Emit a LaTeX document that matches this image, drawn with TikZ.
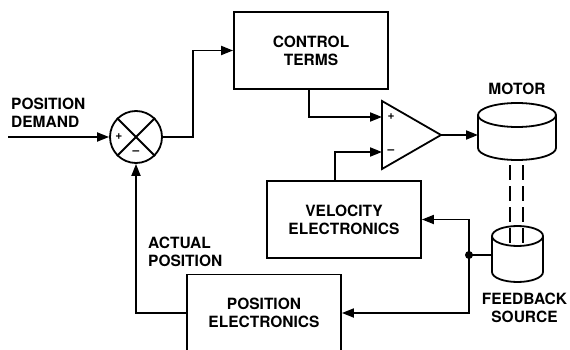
\documentclass[tikz,border=0pt]{standalone}
\usepackage{fontspec}
\newfontfamily\helv{TeX Gyre Heros}
\usepackage{tikz}
\usetikzlibrary{calc}
\usetikzlibrary{arrows.meta}

\tikzset{
  wire/.style={black, line width=1.8pt},
  sig/.style={wire, -{Triangle[length=12pt, width=9pt]}},
  blok/.style={draw, wire, fill=white, rectangle, minimum width=154pt, minimum height=77pt, align=center, inner sep=0pt, font=\helv\bfseries\fontsize{15.5}{18}\selectfont},
  lbl/.style={align=center, inner sep=0pt, font=\helv\bfseries\fontsize{15.5}{18}\selectfont},
  pm/.style={inner sep=0pt, font=\helv\bfseries\fontsize{12}{13}\selectfont}
}

\begin{document}
\begin{tikzpicture} [x=1pt, y=-1pt]
\useasboundingbox (0,0) rectangle (570,350);

% blocks
\node[blok] (ctrl) at (311,50.5) {CONTROL\\TERMS};
\node[blok] (vel) at (344,219.5) {VELOCITY\\ELECTRONICS};
\node[blok] (pos) at (264,313) {POSITION\\ELECTRONICS};

% summing junction
\node[draw, wire, fill=white, circle, minimum size=52pt, inner sep=0pt] (sum) at (136,137) {};
\draw[wire] (sum.north west) -- (sum.south east);
\draw[wire] (sum.north east) -- (sum.south west);
\node[pm] (splus) at (119,137) {+};
\node[pm] (sminus) at (136,153) {–};

% amplifier
\draw[wire, fill=white] (382,101) -- (441,135) -- (382,169) -- cycle;
\coordinate (ampp) at (382,117);
\coordinate (ampm) at (382,152);
\coordinate (ampo) at (441,135);
\node[pm] (aplus) at (391,117) {+};
\node[pm] (aminus) at (391,152) {–};

% motor and feedback source
\draw[wire, fill=white] (478,115) -- (478,148) arc[start angle=180, end angle=360, x radius=39pt, y radius=12pt] -- (556,115);
\draw[wire] (517,115) ellipse [x radius=39pt, y radius=12pt];
\coordinate (mot) at (478,135);
\draw[wire, fill=white] (492,236) -- (492,272) arc[start angle=180, end angle=360, x radius=25.5pt, y radius=10pt] -- (543,236);
\draw[wire] (517.5,236) ellipse [x radius=25.5pt, y radius=10pt];
\coordinate (fb) at (492,255);
\foreach \x in {510, 523} \draw[wire, dash pattern=on 15pt off 6pt] (\x,165) -- (\x,244);

% labels
\node[lbl, anchor=west, align=left] (dmdtxt) at (11,113) {POSITION\\DEMAND};
\node[lbl, anchor=west, align=left] (acttxt) at (148,252) {ACTUAL\\POSITION};
\node[lbl] (mottxt) at (517,89) {MOTOR};
\node[lbl] (fbtxt) at (524.5,307.5) {FEEDBACK\\SOURCE};

% signals
\coordinate (dmd) at (8,137);
\coordinate (jn) at (469,255);
\draw[sig] (dmd) -- (sum.west);
\draw[sig] (sum.east) -- ++(30,0) |- (ctrl.west);
\draw[sig] ([xshift=-2pt]ctrl.south) |- (ampp);
\draw[sig] ([xshift=-9pt]vel.north) |- (ampm);
\draw[sig] (ampo) -- (mot);
\draw[wire] (fb) -- (jn);
\draw[sig] (jn) |- (vel.east);
\draw[sig] (jn) |- (pos.east);
\draw[sig] (pos.west) -| (sum.south);
\fill (jn) circle (4pt);

\end{tikzpicture}
\end{document}
